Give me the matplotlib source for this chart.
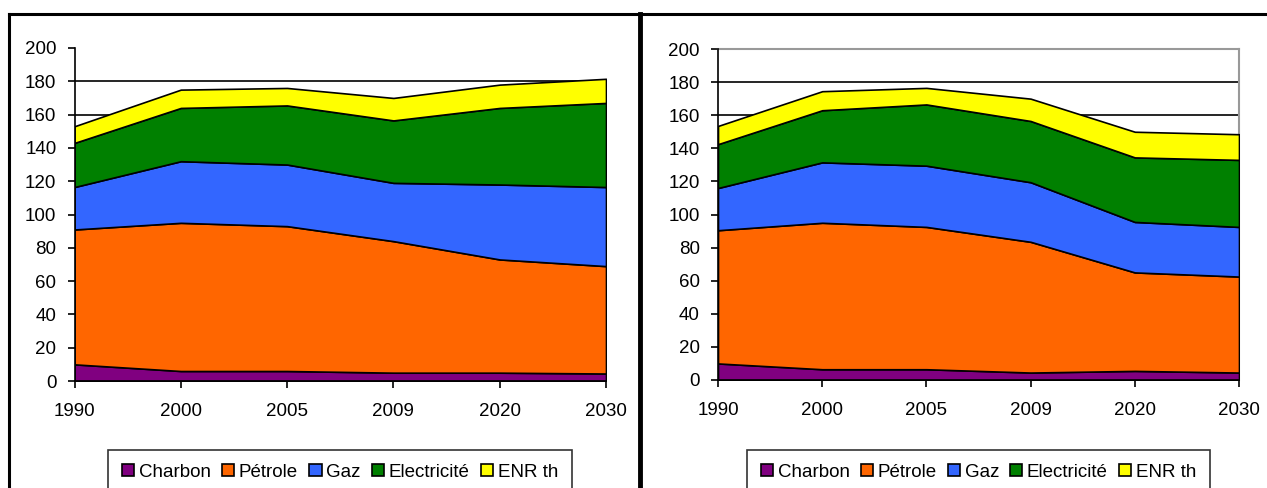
import matplotlib
matplotlib.use("Agg")
import matplotlib.pyplot as plt
from matplotlib.patches import Patch
from matplotlib.lines import Line2D
import numpy as np

plt.rcParams['font.family'] = ['Liberation Sans', 'DejaVu Sans']

years = ["1990", "2000", "2005", "2009", "2020", "2030"]
series_names = ["Charbon", "Pétrole", "Gaz", "Electricité", "ENR th"]
colors = ["#800080", "#FF6600", "#3366FF", "#008000", "#FFFF00"]

# Left chart
left_charbon = [10, 6, 6, 5, 5, 4.5]
left_petrole = [81, 89, 87, 79, 68, 64.5]
left_gaz = [25.5, 37, 37, 35, 45, 47.5]
left_elec = [26.5, 32, 35.5, 37.5, 46, 50.5]
left_enr = [10, 11, 10.5, 13.5, 14, 14.5]

# Right chart
right_charbon = [10, 6.5, 6.5, 4.5, 5.5, 4.5]
right_petrole = [80.5, 88.5, 86, 79, 59.5, 58]
right_gaz = [25.5, 36.5, 37, 36, 30.5, 30]
right_elec = [26.5, 31.5, 37, 37, 39, 40.5]
right_enr = [11, 11.5, 10, 13.5, 15.5, 15.5]

W, H = 1267, 488
fig = plt.figure(figsize=(W / 100, H / 100), dpi=100)
FS = 13.5


def fx(px):
    return px / W


def fy(py):
    return 1 - py / H


def draw(ax, data, border):
    x = np.arange(len(years))
    ax.stackplot(x, *data, colors=colors, edgecolor="black", linewidth=1.2, zorder=3)
    ax.set_xlim(0, len(years) - 1)
    ax.set_ylim(0, 200)
    ax.set_yticks(np.arange(0, 201, 20))
    ax.set_xticks(x)
    ax.set_xticklabels(years)
    for v in range(20, 200, 20):
        ax.axhline(v, color="black", linewidth=1.2, zorder=1)
    ax.tick_params(axis="both", labelsize=FS, colors="black", direction="out", width=1.2)
    ax.tick_params(axis="y", length=5, pad=8)
    ax.tick_params(axis="x", length=5, pad=11)
    ax.spines["left"].set_color("black")
    ax.spines["bottom"].set_color("black")
    ax.spines["left"].set_linewidth(1.2)
    ax.spines["bottom"].set_linewidth(1.2)
    ax.spines["left"].set_zorder(5)
    ax.spines["bottom"].set_zorder(5)
    if border:
        ax.spines["top"].set_color("#999999")
        ax.spines["right"].set_color("#999999")
        ax.spines["top"].set_linewidth(1.5)
        ax.spines["right"].set_linewidth(1.5)
    else:
        ax.spines["top"].set_visible(False)
        ax.spines["right"].set_visible(False)


ax1 = fig.add_axes([fx(74.5), fy(381), fx(606 - 74.5), (381 - 48) / H])
draw(ax1, [left_charbon, left_petrole, left_gaz, left_elec, left_enr], False)

ax2 = fig.add_axes([fx(718), fy(380), fx(1239 - 718), (380 - 49) / H])
draw(ax2, [right_charbon, right_petrole, right_gaz, right_elec, right_enr], True)

handles = [Patch(facecolor=c, edgecolor="black", linewidth=1.2) for c in colors]
for x0, x1 in [(108, 572), (747, 1210)]:
    leg = fig.legend(handles, series_names, ncol=5, loc="upper left",
                     bbox_to_anchor=(fx(x0), fy(450), fx(x1 - x0), 0.001),
                     mode="expand", fontsize=FS, frameon=True, fancybox=False,
                     handlelength=0.65, handleheight=0.65, handletextpad=0.25,
                     columnspacing=0.3, borderpad=0.75, borderaxespad=0)
    leg.get_frame().set_edgecolor("black")
    leg.get_frame().set_linewidth(1.2)

# panel frames
fig.add_artist(Line2D([fx(9), fx(9)], [fy(14), fy(500)], color="black", linewidth=2.2))
fig.add_artist(Line2D([fx(9), fx(1267)], [fy(14), fy(14)], color="black", linewidth=2.2))
fig.add_artist(Line2D([fx(640), fx(640)], [fy(14), fy(500)], color="black", linewidth=3.5))

fig.savefig("out.png", dpi=100)
